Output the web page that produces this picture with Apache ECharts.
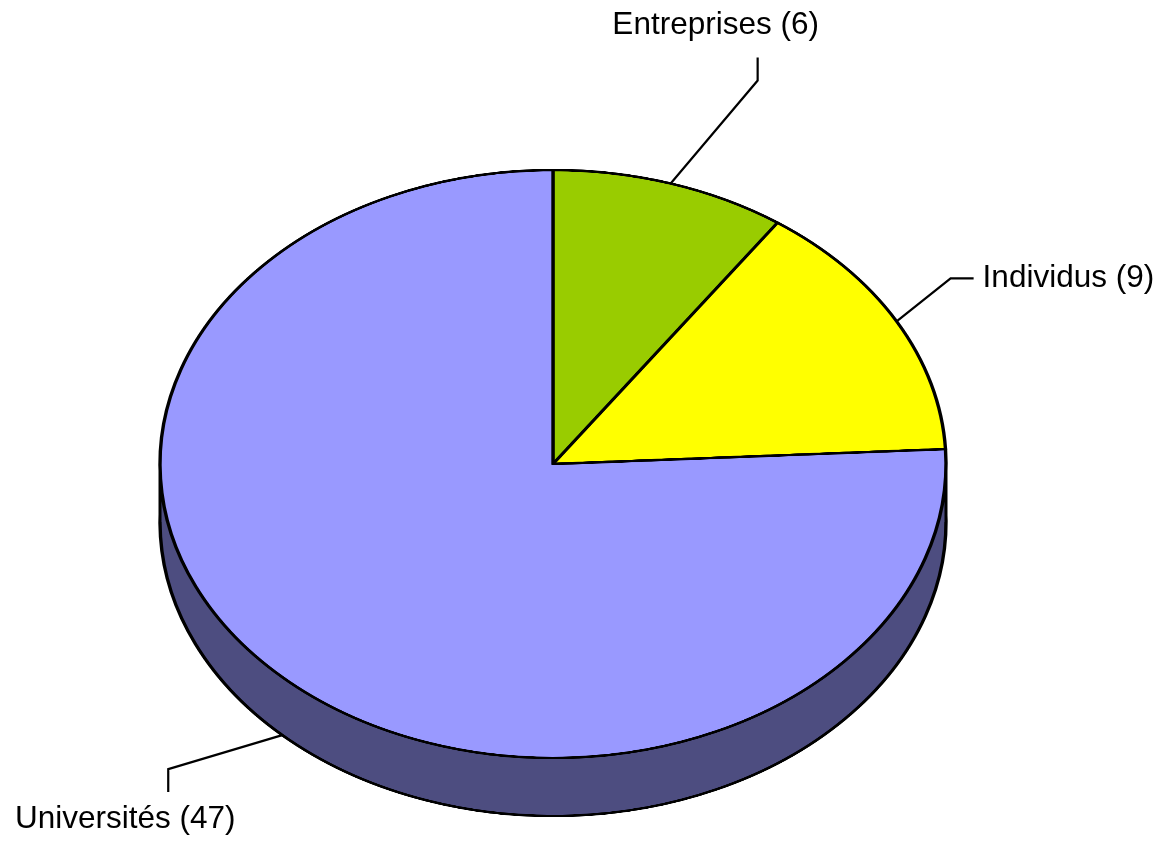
<!DOCTYPE html>
<html>
<head>
<meta charset="utf-8">
<script src="https://cdn.jsdelivr.net/npm/echarts@6/dist/echarts.min.js"></script>
<style>
html,body{margin:0;padding:0;background:#fff;}
#wrap{position:relative;width:1160px;height:844px;overflow:hidden;}
#pieBox{position:absolute;left:0;top:0;width:1160px;transform-origin:0 0;}
#pie{width:100%;height:100%;}
#labels{position:absolute;left:0;top:0;width:1160px;height:844px;}
</style>
</head>
<body>
<div id="wrap"><div id="pieBox"><div id="pie"></div></div><div id="labels"></div></div>
<script>
// ---- data ----
var categories = ['Entreprises', 'Individus', 'Universités'];
var values = [6, 9, 47];
var topColors = ['#99CC00', '#FFFF00', '#9999FF'];
var sideColors = ['#4D6600', '#808000', '#4D4D80'];

// ---- layout (final screen pixels) ----
var CX = 553, CY = 464, RX = 393, RY = 294, DEPTH = 58;
var S = RY / RX;                       // vertical squash of the disc
var FONT = 'Liberation Sans, Arial, sans-serif';

var box = document.getElementById('pieBox');
box.style.height = Math.round(844 / S) + 'px';
box.style.transform = 'scale(1,' + S + ')';

function buildData(colors) {
  return categories.map(function (c, i) {
    var d = { name: c, value: values[i] };
    if (colors) d.itemStyle = { color: colors[i] };
    return d;
  });
}

var pieChart = echarts.init(document.getElementById('pie'), null, { renderer: 'canvas', devicePixelRatio: 2 });
pieChart.setOption({
  animation: false,
  graphic: [
    { type: 'rect', z: 3, silent: true,
      shape: { x: CX - RX, y: CY / S, width: 2 * RX, height: DEPTH / S },
      style: { fill: sideColors[2] } },
    { type: 'line', z: 4, silent: true,
      shape: { x1: CX - RX, y1: CY / S, x2: CX - RX, y2: (CY + DEPTH) / S },
      style: { stroke: '#000', lineWidth: 3 } },
    { type: 'line', z: 4, silent: true,
      shape: { x1: CX + RX, y1: CY / S, x2: CX + RX, y2: (CY + DEPTH) / S },
      style: { stroke: '#000', lineWidth: 3 } }
  ],
  series: [
    { type: 'pie', z: 1, silent: true, startAngle: 90, clockwise: true,
      center: [CX, (CY + DEPTH) / S], radius: RX,
      label: { show: false }, labelLine: { show: false },
      itemStyle: { borderColor: '#000', borderWidth: 3.4 },
      data: buildData(sideColors) },
    { type: 'pie', z: 5, silent: true, startAngle: 90, clockwise: true,
      center: [CX, CY / S], radius: RX,
      label: { show: false }, labelLine: { show: false },
      itemStyle: { borderColor: '#000', borderWidth: 3.4 },
      data: buildData(topColors) }
  ]
});

// label leader-line styling: elbow offset from rim anchor, tail offset, text offset
var leader = [
  { elbow: [87, -103], tail: [0, -23], text: [-42, -32], align: 'center' },
  { elbow: [54, -43], tail: [23, 0], text: [9, 0], align: 'left' },
  { elbow: [-114, 34], tail: [0, 23], text: [-43, 27], align: 'center' }
];
var total = values.reduce(function (a, b) { return a + b; }, 0);

var labelChart = echarts.init(document.getElementById('labels'));
labelChart.setOption({
  animation: false,
  series: [{
    type: 'pie', silent: true, startAngle: 90, clockwise: true,
    center: [CX, CY], radius: RX,
    itemStyle: { color: 'rgba(0,0,0,0)', borderWidth: 0 },
    label: { show: true, position: 'outside', formatter: '{b} ({c})',
             color: '#000', fontSize: 31.5, fontFamily: FONT },
    labelLine: { show: true, length: 10, length2: 10, smooth: false,
                 lineStyle: { color: '#000', width: 2.2 } },
    labelLayout: function (p) {
      var i = p.dataIndex;
      var before = 0;
      for (var k = 0; k < i; k++) before += values[k];
      var mid = (before + values[i] / 2) / total * 2 * Math.PI;
      var ax = CX + RX * Math.sin(mid);
      var ay = CY - RY * Math.cos(mid) + (Math.cos(mid) < 0 ? DEPTH : 0);
      var L = leader[i];
      var ex = ax + L.elbow[0], ey = ay + L.elbow[1];
      var tx = ex + L.tail[0], ty = ey + L.tail[1];
      return {
        x: tx + L.text[0], y: ty + L.text[1],
        align: L.align, verticalAlign: 'middle',
        labelLinePoints: [[ax, ay], [ex, ey], [tx, ty]]
      };
    },
    data: buildData(null)
  }]
});
</script>
</body>
</html>
